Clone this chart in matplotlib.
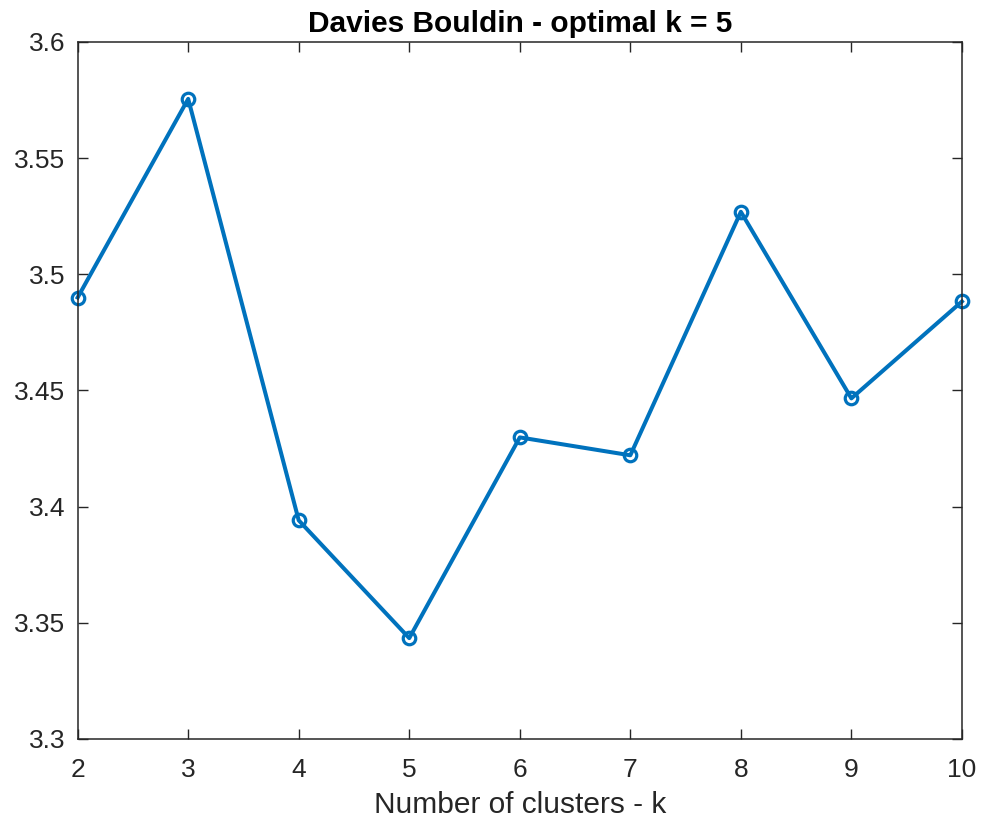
import matplotlib
matplotlib.use('Agg')
import matplotlib.pyplot as plt

plt.rcParams['font.family'] = ['Liberation Sans', 'DejaVu Sans']

# Davies Bouldin index per number of clusters
k_values = [2, 3, 4, 5, 6, 7, 8, 9, 10]
db_scores = [3.490, 3.5755, 3.3941, 3.3434, 3.4298, 3.4221, 3.5269, 3.4466, 3.4883]
y_ticks = [3.3, 3.35, 3.4, 3.45, 3.5, 3.55, 3.6]
y_tick_labels = ['3.3', '3.35', '3.4', '3.45', '3.5', '3.55', '3.6']

fig = plt.figure(figsize=(9.88, 8.21), dpi=100)
ax = fig.add_axes([0.0786, 0.0999, 0.895, 0.849])

ax.plot(k_values, db_scores, color='#0072BD', linewidth=2.9,
        marker='o', markersize=9, markerfacecolor='none',
        markeredgewidth=2.3, markeredgecolor='#0072BD', clip_on=False)

ax.set_xlim(2, 10)
ax.set_ylim(3.3, 3.6)
ax.set_xticks(k_values)
ax.set_yticks(y_ticks)
ax.set_yticklabels(y_tick_labels)
ax.tick_params(direction='in', labelsize=19, length=7, width=1, colors='#262626',
               top=True, right=True)
ax.tick_params(axis='y', pad=9)
ax.tick_params(axis='x', pad=14)
for spine in ax.spines.values():
    spine.set_color('#262626')
    spine.set_linewidth(1.1)

ax.set_xlabel('Number of clusters - k', fontsize=21.5, color='#262626', labelpad=6)
ax.set_title('Davies Bouldin - optimal k = 5', fontsize=21.5, fontweight='bold', pad=7)

fig.savefig('out.png', dpi=100, facecolor='white')
